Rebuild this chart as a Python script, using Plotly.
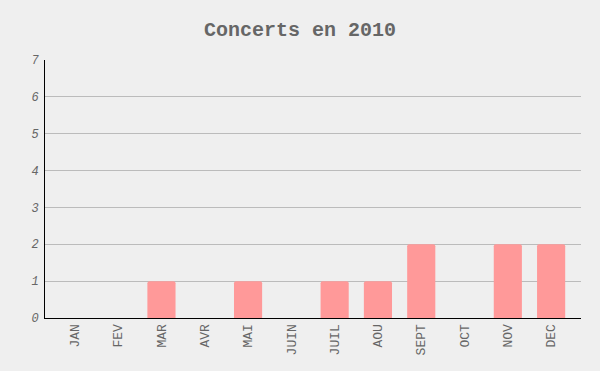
import plotly.graph_objects as go

months = ["JAN", "FEV", "MAR", "AVR", "MAI", "JUIN", "JUIL", "AOU", "SEPT", "OCT", "NOV", "DEC"]
concerts = [0, 0, 1, 0, 1, 0, 1, 1, 2, 0, 2, 2]
y_ticks = [0, 1, 2, 3, 4, 5, 6, 7]

fig = go.Figure(go.Bar(x=months, y=concerts, marker=dict(color="#FF9999", cornerradius=2, line=dict(width=0))))

fig.update_layout(
    width=600, height=371,
    paper_bgcolor="#EFEFEF", plot_bgcolor="#EFEFEF",
    margin=dict(l=45, r=19, t=60, b=53),
    title=dict(text="<b>Concerts en 2010</b>", x=0.5, xanchor="center", y=0.922, yanchor="middle",
               font=dict(family="Liberation Mono", size=20, color="#666666")),
    bargap=0.35,
    showlegend=False,
)
fig.update_xaxes(
    range=[-0.69, 11.69],
    showline=True, linecolor="#000000", linewidth=1, showgrid=False,
    tickangle=-90, tickfont=dict(family="Liberation Mono", size=13, color="#666666"),
    ticks="", ticklen=0,
)
fig.update_yaxes(
    range=[0, 7], tickvals=y_ticks, showline=True, linecolor="#000000", linewidth=1,
    showgrid=True, gridcolor="#BBBBBB", gridwidth=1, zeroline=False,
    tickfont=dict(family="Liberation Mono", size=12, color="#666666", style="italic"),
    ticks="", ticklabelstandoff=3,
)

fig.write_html("out.html", config={"displayModeBar": False},
               post_script="document.body.style.margin='0';document.body.style.overflow='hidden';")
